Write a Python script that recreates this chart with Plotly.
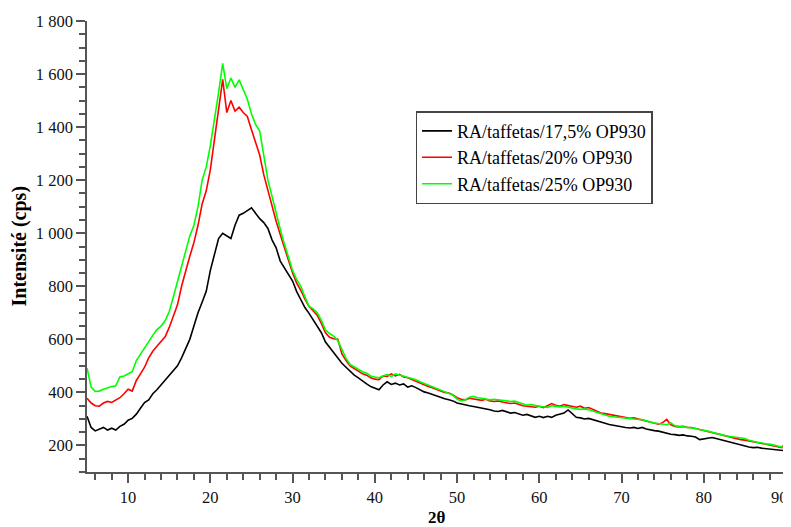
import numpy as np
import plotly.graph_objects as go

# 2-theta sampling grid (degrees)
two_theta = np.round(np.arange(5.0, 90.01, 0.5), 2)

series_names = ["RA/taffetas/17,5% OP930", "RA/taffetas/20% OP930", "RA/taffetas/25% OP930"]

ra_17_5 = [
    310, 268, 255, 262, 268, 258, 265, 258, 272, 280,
    295, 302, 318, 340, 362, 372, 395, 410, 428, 445,
    460, 478, 500, 530, 565, 600, 650, 700, 740, 781,
    860, 920, 980, 1000, 990, 980, 1030, 1068, 1075, 1085,
    1096, 1075, 1055, 1040, 1018, 975, 945, 895, 870, 845,
    820, 780, 750, 720, 698, 672, 650, 625, 590, 570,
    548, 530, 510, 495, 478, 465, 455, 442, 432, 422,
    415, 410, 428, 440, 430, 435, 428, 432, 420, 425,
    418, 410, 402, 398, 392, 385, 382, 376, 372, 368,
    360, 356, 352, 350, 347, 344, 342, 338, 335, 330,
    328, 332, 326, 322, 324, 318, 314, 317, 310, 306,
    310, 305, 310, 306, 314, 318, 322, 334, 320, 306,
    304, 300, 302, 298, 292, 288, 284, 279, 276, 272,
    270, 268, 266, 268, 264, 268, 262, 258, 256, 254,
    250, 246, 242, 241, 238, 240, 236, 235, 232, 222,
    224, 226, 230, 226, 222, 218, 214, 210, 206, 200,
    196, 194, 192, 193, 190, 188, 186, 185, 184, 182,
    180,
]

ra_20 = [
    378, 360, 350, 348, 360, 366, 362, 370, 380, 395,
    412, 405, 445, 470, 495, 530, 555, 574, 590, 610,
    645, 690, 730, 800, 860, 913, 965, 1030, 1110, 1160,
    1240, 1360, 1460, 1580, 1455, 1500, 1460, 1475, 1455, 1440,
    1390, 1340, 1295, 1220, 1160, 1100, 1045, 995, 945, 895,
    850, 812, 785, 752, 724, 708, 690, 660, 625, 608,
    602, 600, 545, 520, 500, 490, 480, 470, 465, 455,
    450, 448, 462, 460, 470, 462, 468, 458, 455, 448,
    442, 436, 430, 422, 418, 410, 405, 400, 398, 390,
    380, 374, 372, 378, 375, 372, 370, 374, 368, 366,
    368, 364, 362, 358, 360, 355, 350, 348, 346, 344,
    348, 343, 350, 358, 352, 348, 354, 350, 346, 344,
    348, 340, 343, 335, 328, 322, 320, 317, 312, 310,
    306, 305, 302, 304, 300, 298, 292, 288, 284, 280,
    286, 298, 278, 272, 270, 272, 268, 268, 264, 260,
    258, 254, 250, 246, 242, 236, 232, 228, 225, 222,
    220, 216, 214, 211, 208, 204, 200, 198, 196, 192,
    212,
]

ra_25 = [
    492, 420, 404, 405, 412, 418, 422, 425, 458, 462,
    470, 478, 520, 545, 565, 595, 615, 637, 650, 670,
    705, 760, 820, 870, 940, 990, 1030, 1100, 1200, 1250,
    1330, 1427, 1530, 1640, 1545, 1585, 1550, 1578, 1540, 1505,
    1450, 1410, 1385, 1290, 1200, 1139, 1075, 1015, 960, 905,
    860, 825, 800, 760, 724, 715, 700, 672, 635, 622,
    612, 595, 560, 528, 505, 495, 485, 478, 472, 462,
    458, 455, 462, 468, 460, 470, 466, 462, 458, 452,
    448, 440, 434, 428, 422, 416, 410, 404, 398, 390,
    375, 368, 372, 382, 385, 380, 378, 376, 372, 374,
    372, 370, 368, 366, 367, 362, 358, 352, 354, 350,
    348, 346, 343, 350, 348, 345, 348, 344, 340, 338,
    336, 338, 335, 330, 325, 318, 314, 310, 308, 306,
    305, 304, 302, 300, 298, 298, 292, 288, 285, 283,
    280, 278, 285, 274, 272, 270, 268, 268, 264, 260,
    258, 254, 250, 246, 240, 238, 235, 233, 231, 230,
    226, 220, 215, 212, 210, 206, 205, 202, 198, 194,
    188,
]

x_tick_vals = [10, 20, 30, 40, 50, 60, 70, 80, 90]
x_tick_text = ["10", "20", "30", "40", "50", "60", "70", "80", ""]  # last label drawn separately so it fits
last_x_label = "90"
y_tick_vals = [200, 400, 600, 800, 1000, 1200, 1400, 1600, 1800]
y_tick_text = ["200", "400", "600", "800", "1 000", "1 200", "1 400", "1 600", "1 800"]

colors = ["#000000", "#ff0000", "#00ff00"]
FONT = "Liberation Serif, Times New Roman, serif"
TICK_SIZE = 16.5
TITLE_SIZE = 20

fig = go.Figure()
for name, ys, c in zip(series_names, [ra_17_5, ra_20, ra_25], colors):
    fig.add_trace(go.Scatter(x=two_theta, y=ys, mode="lines", name=name,
                             line=dict(color=c, width=1.6)))

axis_common = dict(showline=True, linecolor="#555555", linewidth=1.5,
                   ticks="outside", tickcolor="#555555", tickwidth=1.5, ticklen=9,
                   showgrid=False, zeroline=False, mirror=False, automargin=False,
                   ticklabeloverflow="allow",
                   tickfont=dict(family=FONT, size=TICK_SIZE, color="#111111"))

# page body adds an 8px margin, so the figure is sized/offset to compensate
fig.update_layout(
    width=783, height=519,
    margin=dict(l=79, r=5, t=13, b=55),
    paper_bgcolor="white", plot_bgcolor="white",
    font=dict(family=FONT, size=15, color="black"),
    xaxis=dict(range=[5, 90], tickvals=x_tick_vals, ticktext=x_tick_text,
               minor=dict(dtick=2, tick0=0, ticks="outside", ticklen=6, tickcolor="#555555", tickwidth=1.5),
               **axis_common),
    yaxis=dict(range=[100, 1800], tickvals=y_tick_vals, ticktext=y_tick_text,
               minor=dict(dtick=50, tick0=0, ticks="outside", ticklen=6, tickcolor="#555555", tickwidth=1.5),
               **axis_common),
    legend=dict(x=0.47, y=0.80, xanchor="left", yanchor="top",
                bordercolor="#444444", borderwidth=1.5, bgcolor="white",
                font=dict(family=FONT, size=18, color="black"),
                itemwidth=30, tracegroupgap=0),
    showlegend=True,
    annotations=[
        dict(text=last_x_label, xref="x", yref="paper", x=x_tick_vals[-1], y=0,
             yshift=-25, xanchor="right", yanchor="middle", xshift=4, showarrow=False,
             font=dict(family=FONT, size=TICK_SIZE, color="#111111")),
        dict(text="<b>2θ</b>", xref="paper", yref="paper", x=0.5, y=0,
             yshift=-45, xanchor="center", yanchor="middle", showarrow=False,
             font=dict(family=FONT, size=17, color="black")),
        dict(text="<b>Intensité (cps)</b>", xref="paper", yref="paper", x=0, y=0.5,
             xshift=-68, xanchor="center", yanchor="middle", textangle=-90, showarrow=False,
             font=dict(family=FONT, size=TITLE_SIZE, color="black")),
    ],
)

fig.write_html("out.html")
